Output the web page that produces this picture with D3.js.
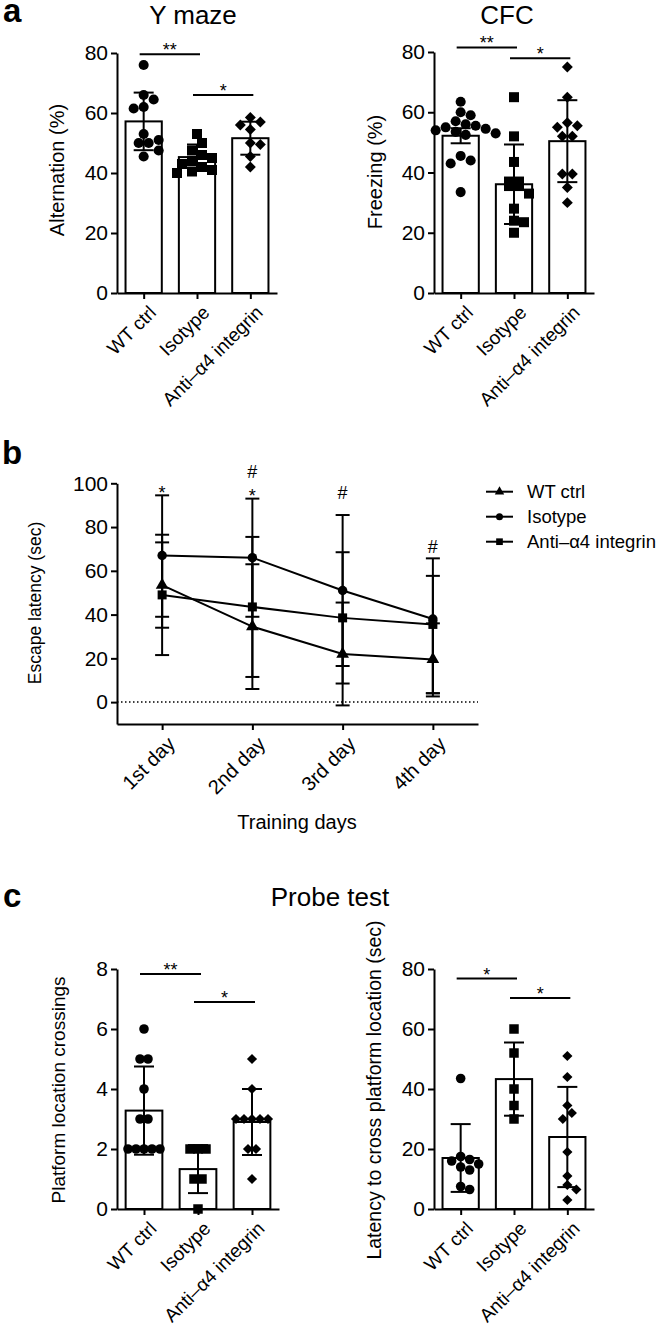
<!DOCTYPE html>
<html><head><meta charset="utf-8">
<script src="https://cdn.jsdelivr.net/npm/d3@7"></script>
<style>html,body{margin:0;padding:0;background:#fff;} svg{display:block;}</style>
</head><body>
<svg id="chart" width="664" height="1334"></svg>
<script>
// ---------------- DATA ----------------
const groups = ["WT ctrl", "Isotype", "Anti\u2013\u03b14 integrin"];

// Panel a – Y maze (Alternation %)
const ymazeWT   = [76, 66, 64.5, 62, 61.5, 53, 51, 50, 50, 47.5, 45.5];
const ymazeIso  = [53, 50, 47.5, 46, 45, 44, 43, 42, 41, 40.5, 40];
const ymazeAnti = [58.5, 57, 56, 54.5, 50, 49.5, 45.5, 42];
const ymazeMean = [57.2, 45.3, 51.6];
const ymazeSD   = [9.6, 4.2, 5.5];
const ymazeTicks = [0, 20, 40, 60, 80];
const ymazeSig = [{a: 0, b: 1, level: 79.6, label: "**"}, {a: 1, b: 2, level: 66, label: "*"}];

// Panel a – CFC (Freezing %)
const cfcWT   = [63.5, 60, 59, 57, 56, 55.5, 55, 54.5, 54, 53.5, 53, 52.5, 45.5, 44, 43, 33.5];
const cfcIso  = [65, 52, 43.5, 37, 37, 35.5, 35.5, 33, 28, 24, 23.5, 20];
const cfcAnti = [75, 65, 56.5, 55.5, 55, 52, 52, 39.5, 39.5, 35, 30];
const cfcMean = [52.2, 36.1, 50.4];
const cfcSD   = [2.5, 13.2, 13.6];
const cfcTicks = [0, 20, 40, 60, 80];
const cfcSig = [{a: 0, b: 1, level: 81.5, label: "**"}, {a: 1, b: 2, level: 77.9, label: "*"}];

// Panel b – Escape latency (sec)
const days = ["1st day", "2nd day", "3rd day", "4th day"];
const seriesNames = ["WT ctrl", "Isotype", "Anti\u2013\u03b14 integrin"];
const latWT       = [53.5, 34.5, 22, 19.5];
const latWTLow    = [34, 6, -1.5, 2.6];
const latWTHigh   = [73, 63, 45.5, 36];
const latIso      = [67, 66, 51, 38];
const latIsoLow   = [39, 39, 16.5, 4.1];
const latIsoHigh  = [94.5, 93, 85.5, 65.7];
const latAnti     = [49, 43.5, 38.5, 35.5];
const latAntiLow  = [21.5, 11.5, 8.5, 4];
const latAntiHigh = [76.5, 75.5, 68.5, 57.7];
const latTicks = [0, 20, 40, 60, 80, 100];
const latMarks = [
  {day: 0, label: "*", level: 97.8},
  {day: 1, label: "#", level: 105.2},
  {day: 1, label: "*", level: 96},
  {day: 2, label: "#", level: 96},
  {day: 3, label: "#", level: 71}
];

// Panel c – Probe test: platform location crossings
const crossWT   = [6, 5, 5, 4, 3, 3, 2, 2, 2, 2, 2];
const crossIso  = [2, 2, 2, 1, 1, 0];
const crossAnti = [5, 4, 3, 3, 3, 3, 3, 2, 2, 1];
const crossMean = [3.28, 1.33, 2.9];
const crossSD   = [1.47, 0.8, 1.1];
const crossTicks = [0, 2, 4, 6, 8];
const crossSig = [{a: 0, b: 1, level: 7.83, label: "**"}, {a: 1, b: 2, level: 6.9, label: "*"}];

// Panel c – Probe test: latency to cross platform location (sec)
const probeWT   = [43.5, 17.5, 16.5, 16, 15, 14, 13, 7.5, 6.5];
const probeIso  = [60, 52, 40, 34.5, 30];
const probeAnti = [51, 44, 34.5, 32, 30, 19, 11, 8, 6.5, 3];
const probeMean = [17, 43.3, 24];
const probeSD   = [11.3, 12.2, 16.7];
const probeTicks = [0, 20, 40, 60, 80];
const probeSig = [{a: 0, b: 1, level: 76.8, label: "*"}, {a: 1, b: 2, level: 70.3, label: "*"}];

// ---------------- DRAWING ----------------
const FONT = "'Liberation Sans', Arial, Helvetica, sans-serif";
const svg = d3.select("#chart").style("font-family", FONT);

function symbolPath(shape, size) {
  const t = {circle: d3.symbolCircle, square: d3.symbolSquare, diamond: d3.symbolSquare, triangle: d3.symbolTriangle}[shape];
  return d3.symbol(t, size)();
}

function swarm(vals, y, s) {
  const counts = d3.rollup(vals, v => v.length, d => d);
  const uniq = Array.from(counts.keys()).sort((a, b) => b - a);
  const out = [];
  for (const v of uniq) {
    const n = counts.get(v);
    if (n > 1) for (let i = 0; i < n; i++) out.push({v, dx: (i - (n - 1) / 2) * s});
  }
  for (const v of uniq) {
    if (counts.get(v) !== 1) continue;
    const py = y(v);
    let dx = 0;
    for (let k = 0; k < 30; k++) {
      const cand = k === 0 ? 0 : (k % 2 ? 1 : -1) * Math.ceil(k / 2) * s * 0.5;
      if (out.every(p => Math.hypot(p.dx - cand, y(p.v) - py) >= s * 0.95)) { dx = cand; break; }
    }
    out.push({v, dx});
  }
  return out;
}

function styleAxis(sel, fs) {
  sel.select(".domain").attr("stroke", "#000").attr("stroke-width", 2);
  sel.selectAll(".tick line").attr("stroke", "#000").attr("stroke-width", 2);
  sel.selectAll(".tick text").attr("fill", "#000").style("font-size", fs + "px").style("font-family", FONT);
}

function sigMark(g, x1, x2, yy, label) {
  g.append("line").attr("x1", x1).attr("x2", x2).attr("y1", yy).attr("y2", yy)
    .attr("stroke", "#000").attr("stroke-width", 2);
  g.append("text").attr("x", (x1 + x2) / 2).attr("y", yy + 2).attr("text-anchor", "middle")
    .style("font-size", "18px").text(label);
}

function catLabels(g, x, labels, ay, fs) {
  g.selectAll(null).data(labels).join("text")
    .attr("transform", d => `translate(${x(d) + 4},${ay + 11}) rotate(-45)`)
    .attr("text-anchor", "end").attr("dy", "0.72em")
    .style("font-size", fs + "px").text(d => d);
}

function yLabel(g, x, y, text, fs) {
  g.append("text").attr("transform", `translate(${x},${y}) rotate(-90)`)
    .attr("text-anchor", "middle").attr("dy", "0.35em").style("font-size", fs + "px").text(text);
}

function barPanel(o) {
  const g = svg.append("g");
  const x = d3.scalePoint().domain(groups).range([o.x0, o.x1]).padding(0.5);
  const y = d3.scaleLinear().domain([0, d3.max(o.ticks)]).range([o.yBottom, o.yTop]);
  const bw = x.step() * 0.68;
  g.selectAll(null).data(o.means).join("rect")
    .attr("x", (d, i) => x(groups[i]) - bw / 2).attr("y", d => y(d))
    .attr("width", bw).attr("height", d => y(0) - y(d))
    .attr("fill", "#fff").attr("stroke", "#000").attr("stroke-width", 2);
  o.vals.forEach((arr, i) => {
    const pts = swarm(arr, y, o.step);
    g.selectAll(null).data(pts).join("path")
      .attr("transform", p => `translate(${x(groups[i]) + p.dx},${y(p.v)})` + (o.shapes[i] === "diamond" ? " rotate(45)" : ""))
      .attr("d", symbolPath(o.shapes[i], o.sizes[i])).attr("fill", "#000");
  });
  // error bars (mean ± SD)
  o.means.forEach((m, i) => {
    const cx = x(groups[i]), lo = y(m - o.sds[i]), hi = y(m + o.sds[i]);
    g.append("line").attr("x1", cx).attr("x2", cx).attr("y1", lo).attr("y2", hi).attr("stroke", "#000").attr("stroke-width", 2);
    [lo, hi].forEach(yy => g.append("line").attr("x1", cx - 10).attr("x2", cx + 10).attr("y1", yy).attr("y2", yy).attr("stroke", "#000").attr("stroke-width", 2));
  });
  const ya = g.append("g").attr("transform", `translate(${o.x0},0)`)
    .call(d3.axisLeft(y).tickValues(o.ticks).tickSize(6).tickSizeOuter(0).tickPadding(3));
  styleAxis(ya, 21);
  const xa = g.append("g").attr("transform", `translate(0,${o.yBottom})`)
    .call(d3.axisBottom(x).tickSize(6).tickSizeOuter(0).tickFormat(""));
  styleAxis(xa, 16);
  catLabels(g, x, groups, o.yBottom, 19);
  o.sig.forEach(s => sigMark(g, x(groups[s.a]) - 4, x(groups[s.b]) + 3, y(s.level), s.label));
  yLabel(g, o.ylx, o.yly, o.ylabel, o.ylfs);
  if (o.title) g.append("text").attr("x", o.tx).attr("y", o.ty).attr("text-anchor", "middle").style("font-size", "26px").text(o.title);
}

// Panel letters
[["a", 3, 22], ["b", 2, 464], ["c", 3, 907]].forEach(([t, px, py]) =>
  svg.append("text").attr("x", px).attr("y", py).style("font-size", "33px").style("font-weight", "bold").text(t));

barPanel({x0: 117, x1: 277, yTop: 53, yBottom: 293, ticks: ymazeTicks,
  vals: [ymazeWT, ymazeIso, ymazeAnti], means: ymazeMean, sds: ymazeSD, sig: ymazeSig,
  shapes: ["circle", "square", "diamond"], sizes: [80, 100, 60], step: 10,
  ylabel: "Alternation (%)", ylx: 57, yly: 170, ylfs: 20, title: "Y maze", tx: 193, ty: 24});

barPanel({x0: 434, x1: 594, yTop: 52, yBottom: 293, ticks: cfcTicks,
  vals: [cfcWT, cfcIso, cfcAnti], means: cfcMean, sds: cfcSD, sig: cfcSig,
  shapes: ["circle", "square", "diamond"], sizes: [80, 100, 60], step: 10,
  ylabel: "Freezing (%)", ylx: 375, yly: 172, ylfs: 20, title: "CFC", tx: 507, ty: 24});

barPanel({x0: 117, x1: 279, yTop: 969, yBottom: 1209, ticks: crossTicks,
  vals: [crossWT, crossIso, crossAnti], means: crossMean, sds: crossSD, sig: crossSig,
  shapes: ["circle", "square", "diamond"], sizes: [72, 90, 52], step: 8,
  ylabel: "Platform location crossings", ylx: 58, yly: 1090, ylfs: 19});

barPanel({x0: 434, x1: 594, yTop: 969, yBottom: 1209, ticks: probeTicks,
  vals: [probeWT, probeIso, probeAnti], means: probeMean, sds: probeSD, sig: probeSig,
  shapes: ["circle", "square", "diamond"], sizes: [72, 90, 52], step: 9,
  ylabel: "Latency to cross platform location (sec)", ylx: 374, yly: 1090, ylfs: 19.5});

svg.append("text").attr("x", 330).attr("y", 906).attr("text-anchor", "middle").style("font-size", "26px").text("Probe test");

// Panel b – line chart
(function () {
  const g = svg.append("g");
  const x = d3.scalePoint().domain(days).range([117, 478]).padding(0.5);
  const y = d3.scaleLinear().domain([-10, 100]).range([724, 483.3]);
  const series = [
    {name: seriesNames[0], v: latWT, lo: latWTLow, hi: latWTHigh, shape: "triangle", size: 70},
    {name: seriesNames[1], v: latIso, lo: latIsoLow, hi: latIsoHigh, shape: "circle", size: 70},
    {name: seriesNames[2], v: latAnti, lo: latAntiLow, hi: latAntiHigh, shape: "square", size: 81}
  ];
  // dotted zero line
  g.append("line").attr("x1", 117).attr("x2", 478).attr("y1", y(0)).attr("y2", y(0))
    .attr("stroke", "#000").attr("stroke-width", 1.5).attr("stroke-dasharray", "1.5,2.5");
  series.forEach(s => {
    s.v.forEach((m, i) => {
      const cx = x(days[i]);
      g.append("line").attr("x1", cx).attr("x2", cx).attr("y1", y(s.lo[i])).attr("y2", y(s.hi[i])).attr("stroke", "#000").attr("stroke-width", 2);
      [s.lo[i], s.hi[i]].forEach(val => g.append("line").attr("x1", cx - 7).attr("x2", cx + 7).attr("y1", y(val)).attr("y2", y(val)).attr("stroke", "#000").attr("stroke-width", 2));
    });
    g.append("path").datum(s.v).attr("fill", "none").attr("stroke", "#000").attr("stroke-width", 2)
      .attr("d", d3.line().x((d, i) => x(days[i])).y(d => y(d)));
    g.selectAll(null).data(s.v).join("path")
      .attr("transform", (d, i) => `translate(${x(days[i])},${y(d)})`)
      .attr("d", symbolPath(s.shape, s.size)).attr("fill", "#000");
  });
  const ya = g.append("g").attr("transform", "translate(117,0)")
    .call(d3.axisLeft(y).tickValues(latTicks).tickSize(6).tickSizeOuter(0).tickPadding(3));
  styleAxis(ya, 21);
  const xa = g.append("g").attr("transform", "translate(0,724)")
    .call(d3.axisBottom(x).tickSize(6).tickSizeOuter(0).tickFormat(""));
  styleAxis(xa, 16);
  catLabels(g, x, days, 724, 20);
  latMarks.forEach(m => {
    const off = m.label === "#" ? 0.36 : 0.58;
    g.append("text").attr("x", x(days[m.day])).attr("y", y(m.level)).attr("dy", off + "em")
      .attr("text-anchor", "middle").style("font-size", "18px").text(m.label);
  });
  yLabel(g, 35, 603, "Escape latency (sec)", 17.5);
  g.append("text").attr("x", 297).attr("y", 829).attr("text-anchor", "middle").style("font-size", "20px").text("Training days");
  // legend
  series.forEach((s, i) => {
    const ly = 491.7 + i * 25;
    g.append("line").attr("x1", 486).attr("x2", 513).attr("y1", ly).attr("y2", ly).attr("stroke", "#000").attr("stroke-width", 2);
    g.append("path").attr("transform", `translate(499.5,${ly})`).attr("d", symbolPath(s.shape, s.size * 0.55)).attr("fill", "#000");
    g.append("text").attr("x", 527).attr("y", ly).attr("dy", "0.35em").style("font-size", "18.5px").text(s.name);
  });
})();
</script>
</body></html>
